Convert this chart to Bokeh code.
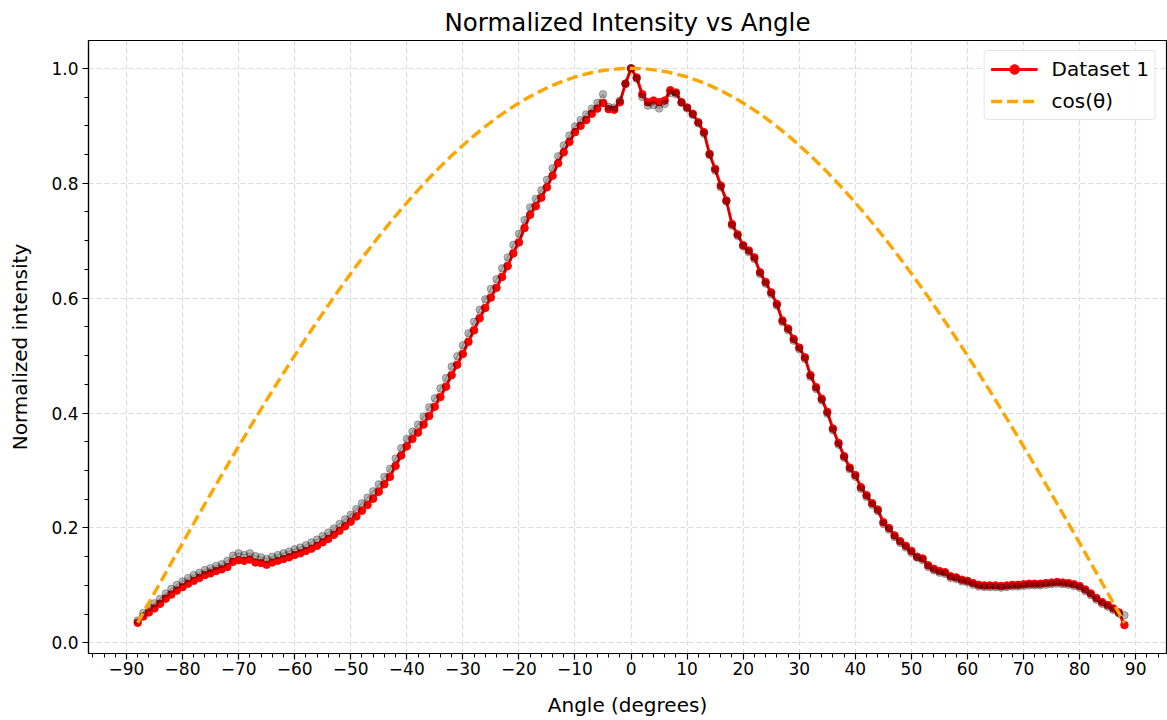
import numpy as np
from bokeh.plotting import figure
from bokeh.models import Range1d, FixedTicker, Legend, LegendItem
from bokeh.embed import file_html
from bokeh.resources import INLINE

# ---- data ----
angles = list(range(-88, 89))

dataset1 = [
    0.035, 0.046, 0.053, 0.060, 0.068, 0.077, 0.084, 0.091, 0.097, 0.103,
    0.108, 0.113, 0.118, 0.121, 0.125, 0.128, 0.132, 0.141, 0.144, 0.143,
    0.145, 0.140, 0.139, 0.136, 0.140, 0.143, 0.146, 0.149, 0.153, 0.156,
    0.160, 0.164, 0.169, 0.175, 0.181, 0.188, 0.195, 0.203, 0.211, 0.220,
    0.230, 0.240, 0.251, 0.263, 0.276, 0.289, 0.308, 0.326, 0.342, 0.355,
    0.366, 0.380, 0.395, 0.411, 0.428, 0.446, 0.466, 0.484, 0.503, 0.524,
    0.544, 0.565, 0.583, 0.601, 0.618, 0.637, 0.656, 0.678, 0.697, 0.722,
    0.745, 0.760, 0.775, 0.793, 0.813, 0.835, 0.854, 0.872, 0.889, 0.900,
    0.910, 0.921, 0.930, 0.940, 0.929, 0.928, 0.941, 0.973,
    1.000,
    0.984, 0.955, 0.941, 0.944, 0.941, 0.944, 0.962, 0.958, 0.941, 0.932,
    0.921, 0.906, 0.889, 0.851, 0.825, 0.796, 0.770, 0.729, 0.711, 0.692,
    0.683, 0.671, 0.645, 0.628, 0.610, 0.590, 0.561, 0.547, 0.529, 0.514,
    0.497, 0.466, 0.445, 0.425, 0.402, 0.373, 0.348, 0.325, 0.305, 0.292,
    0.271, 0.257, 0.243, 0.232, 0.210, 0.200, 0.187, 0.177, 0.169, 0.160,
    0.150, 0.147, 0.135, 0.129, 0.125, 0.123, 0.116, 0.114, 0.110, 0.108,
    0.104, 0.101, 0.100, 0.100, 0.100, 0.099, 0.100, 0.101, 0.101, 0.102,
    0.103, 0.103, 0.103, 0.104, 0.105, 0.106, 0.105, 0.104, 0.102, 0.099,
    0.093, 0.086, 0.078, 0.071, 0.066, 0.060, 0.053, 0.031,
]

raw_series = [
    0.039, 0.052, 0.062, 0.069, 0.077, 0.086, 0.094, 0.101, 0.107, 0.113,
    0.118, 0.122, 0.127, 0.130, 0.134, 0.137, 0.143, 0.152, 0.156, 0.153,
    0.156, 0.151, 0.149, 0.146, 0.150, 0.153, 0.156, 0.159, 0.163, 0.166,
    0.170, 0.175, 0.180, 0.186, 0.192, 0.199, 0.207, 0.215, 0.223, 0.233,
    0.243, 0.253, 0.264, 0.276, 0.289, 0.303, 0.321, 0.339, 0.355, 0.368,
    0.380, 0.394, 0.410, 0.426, 0.443, 0.461, 0.481, 0.499, 0.518, 0.539,
    0.559, 0.580, 0.598, 0.616, 0.633, 0.652, 0.671, 0.693, 0.712, 0.736,
    0.758, 0.773, 0.788, 0.806, 0.826, 0.847, 0.866, 0.883, 0.899, 0.910,
    0.920, 0.930, 0.940, 0.955, 0.933, 0.932, 0.944, 0.974,
    1.000,
    0.982, 0.950, 0.935, 0.936, 0.930, 0.938, 0.957, 0.955, 0.940, 0.930,
    0.919, 0.904, 0.886, 0.849, 0.822, 0.793, 0.768, 0.726, 0.708, 0.690,
    0.680, 0.668, 0.642, 0.625, 0.607, 0.587, 0.558, 0.544, 0.526, 0.511,
    0.494, 0.463, 0.442, 0.422, 0.399, 0.370, 0.345, 0.322, 0.302, 0.289,
    0.268, 0.254, 0.240, 0.229, 0.207, 0.197, 0.184, 0.174, 0.166, 0.157,
    0.148, 0.144, 0.132, 0.126, 0.122, 0.120, 0.113, 0.111, 0.107, 0.105,
    0.101, 0.098, 0.097, 0.097, 0.097, 0.096, 0.097, 0.098, 0.098, 0.099,
    0.100, 0.100, 0.100, 0.101, 0.102, 0.103, 0.102, 0.101, 0.099, 0.096,
    0.090, 0.083, 0.075, 0.068, 0.063, 0.057, 0.051, 0.048,
]

x_ticks = list(range(-90, 91, 10))
y_ticks = [0.0, 0.2, 0.4, 0.6, 0.8, 1.0]

cos_angles = np.linspace(-88, 88, 400)
cos_values = np.cos(np.radians(cos_angles))

FONT = "DejaVu Sans"

p = figure(width=1167, height=720,
           x_range=Range1d(-96.77, 95.5), y_range=Range1d(-0.0185, 1.0485),
           output_backend="svg", toolbar_location=None,
           min_border_left=88, min_border_right=1, min_border_top=40, min_border_bottom=67)

p.title.text = "Normalized Intensity vs Angle"
p.title.align = "center"
p.title.text_font = FONT
p.title.text_font_size = "24.5px"
p.title.text_font_style = "normal"
p.title.text_color = "black"
p.title.standoff = 8

# series
r_line = p.line(angles, dataset1, line_color="#ff0000", line_width=3)
r_pts = p.scatter(angles, dataset1, size=7.5, fill_color="#ff0000", line_color="#ff0000")
g_line = p.line(angles, raw_series, line_color="black", line_alpha=0.22, line_width=1.5)
g_pts = p.scatter(angles, raw_series, size=7.5, fill_color="black", fill_alpha=0.28,
                  line_color="black", line_alpha=0.28)
c_line = p.line(cos_angles, cos_values, line_color="#ffa500", line_width=3.4,
                line_dash="11 5")

legend = Legend(items=[LegendItem(label="Dataset 1", renderers=[r_line, r_pts]),
                       LegendItem(label="cos(θ)", renderers=[c_line])],
                location="top_right")
legend.label_text_font = FONT
legend.label_text_font_size = "20px"
legend.label_text_color = "black"
legend.label_height = 24
legend.glyph_height = 24
legend.border_line_color = "#cccccc"
legend.border_line_width = 1
legend.border_radius = 4
legend.background_fill_alpha = 0.85
legend.glyph_width = 47
legend.label_standoff = 14
legend.spacing = 8
legend.padding = 6
legend.margin = 10
p.add_layout(legend)

# axes
p.xaxis.ticker = FixedTicker(ticks=x_ticks, minor_ticks=list(range(-96, 97, 2)))
p.yaxis.ticker = FixedTicker(ticks=y_ticks, minor_ticks=[i * 0.05 for i in range(0, 21)])
p.xaxis.major_label_overrides = {t: (str(t).replace("-", "\u2212")) for t in x_ticks}
p.yaxis.major_label_overrides = {t: f"{t:.1f}" for t in y_ticks}

for ax in (p.xaxis, p.yaxis):
    ax.major_label_text_font = FONT
    ax.major_label_text_font_size = "17px"
    ax.major_label_text_color = "black"
    ax.axis_label_text_font = FONT
    ax.axis_label_text_font_size = "20px"
    ax.axis_label_text_font_style = "normal"
    ax.axis_label_text_color = "black"
    ax.axis_line_color = "black"
    ax.axis_line_width = 1.2
    ax.major_tick_line_color = "black"
    ax.minor_tick_line_color = "black"
    ax.major_tick_line_width = 1.2
    ax.minor_tick_line_width = 1
    ax.major_tick_out = 6
    ax.major_tick_in = 0
    ax.minor_tick_out = 4
    ax.minor_tick_in = 0

p.xaxis.axis_label = "Angle (degrees)"
p.yaxis.axis_label = "Normalized intensity"
p.xaxis.major_label_standoff = 2
p.yaxis.major_label_standoff = 4
p.xaxis.axis_label_standoff = 15
p.yaxis.axis_label_standoff = 16

p.grid.grid_line_color = "#b0b0b0"
p.grid.grid_line_alpha = 0.45
p.grid.grid_line_dash = "5 3"
p.grid.grid_line_width = 1.2

p.outline_line_color = "black"
p.outline_line_width = 1.2
p.outline_line_alpha = 1.0

open("out.html", "w").write(file_html(p, INLINE))
